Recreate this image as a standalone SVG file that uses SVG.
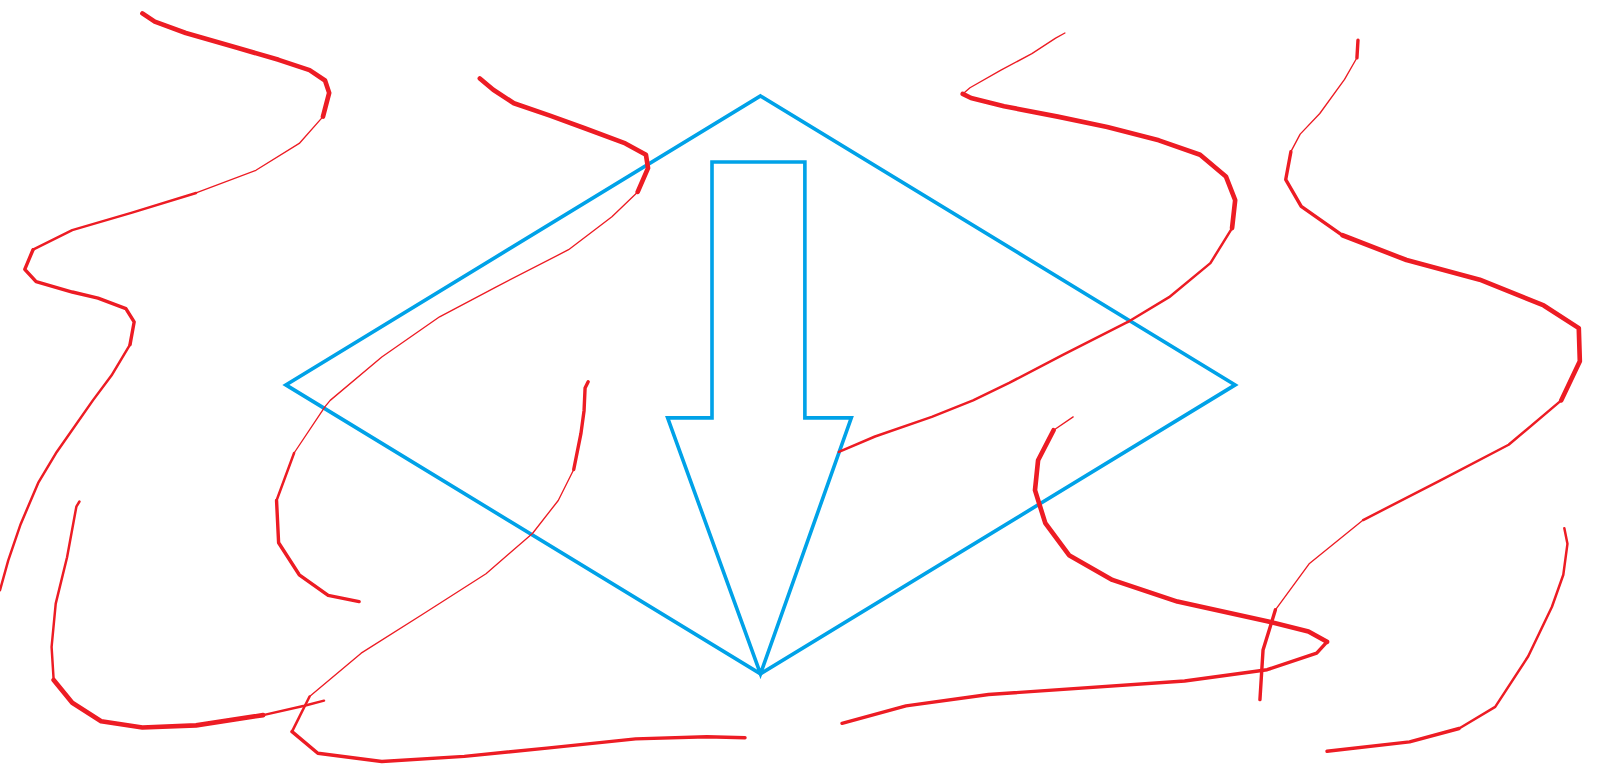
<svg xmlns="http://www.w3.org/2000/svg" width="1618" height="783" viewBox="0 0 1618 783">
<style>
.bg{fill:#ffffff}
.blue{fill:none;stroke:#00A2E8;stroke-width:3.5;stroke-linejoin:miter}
.r{fill:none;stroke:#ED1C24;stroke-linejoin:round;stroke-linecap:round}
.w1{stroke-width:1.3}
.w2{stroke-width:2.4}
.w3{stroke-width:3.3}
.w4{stroke-width:4.5}
</style>
<rect class="bg" x="0" y="0" width="1618" height="783"/>
<g transform="scale(1.03189)">
<g id="diamond">
<polygon class="blue" points="737,93 1197,373 737,653 277,373"/>
</g>
<g id="arrow">
<polygon class="blue" points="690,157 780,157 780,405 825,405 737,653 647,405 690,405"/>
</g>
<g id="curve-a">
<polyline class="r w4" points="138,13 150,21 180,32 229,46 270,58 300,68 315,78 319,90 313,113"/>
<polyline class="r w1" points="313,113 290,139 248,165 190,187"/>
<polyline class="r w2" points="190,187 128,206 70,223 32,242"/>
<polyline class="r w3" points="32,242 24,261 35,273 70,283 95,289 122,299 130,312 126,334"/>
<polyline class="r w2" points="126,334 108,364 90,388 55,438 37,468 20,508 8,543 0,572"/>
</g>
<g id="curve-b">
<polyline class="r w4" points="465,76 478,87 498,100 533,112 566,124 606,139 626,150 628,163 618,186"/>
<polyline class="r w1" points="618,186 593,210 551,242 481,278 426,307 370,346 320,388 315,394 285,439"/>
<polyline class="r w2" points="285,439 268,485"/>
<polyline class="r w3" points="268,485 270,526 290,557 318,577 348,583"/>
</g>
<g id="curve-c">
<polyline class="r w3" points="570,370 567,376 566,398 563,420 556,455"/>
<polyline class="r w1" points="556,455 541,485 516,517 471,556 410,595 350,633 300,675"/>
<polyline class="r w2" points="300,675 290,695 283,709"/>
<polyline class="r w3" points="283,709 308,730 370,738 450,733 530,725 616,716 685,714 722,715"/>
</g>
<g id="curve-d">
<polyline class="r w2" points="77,486 74,491 65,540 54,585 50,627 52,659"/>
<polyline class="r w4" points="52,659 70,681 98,699 138,705 190,703 255,693"/>
<polyline class="r w2" points="255,693 295,684 314,679"/>
</g>
<g id="curve-e">
<polyline class="r w1" points="1032,32 1023,37 1000,52 970,68 940,85 933,91"/>
<polyline class="r w4" points="933,91 941,95 973,103 1025,113 1073,123 1123,136 1163,150 1188,171 1197,194 1194,221"/>
<polyline class="r w2" points="1194,221 1173,255 1133,288 1093,312"/>
<polyline class="r w2" points="1093,312 1030,344 978,371 943,388 903,404 848,423 813,438"/>
</g>
<g id="curve-f">
<polyline class="r w3" points="1316,39 1315,56"/>
<polyline class="r w1" points="1315,56 1303,77 1279,110 1260,130 1251,147"/>
<polyline class="r w3" points="1251,147 1246,174 1261,200 1301,228"/>
<polyline class="r w4" points="1301,228 1363,252 1434,271 1496,296 1530,318 1531,350 1513,388"/>
<polyline class="r w2" points="1513,388 1462,431 1395,466 1321,504"/>
<polyline class="r w1" points="1321,504 1269,546 1236,591"/>
<polyline class="r w3" points="1236,591 1224,630 1221,678"/>
</g>
<g id="curve-g">
<polyline class="r w1" points="1040,404 1021,417"/>
<polyline class="r w4" points="1021,417 1006,446 1003,475 1013,507 1036,538 1078,562 1141,583 1228,602 1268,612 1286,622"/>
<polyline class="r w3" points="1286,622 1276,633 1228,649 1148,660 958,673 878,684 816,701"/>
</g>
<g id="curve-h">
<polyline class="r w2" points="1516,512 1519,527 1515,557 1504,588 1481,636 1449,685 1414,706"/>
<polyline class="r w3" points="1414,706 1366,719 1286,728"/>
</g>
</g>
</svg>
